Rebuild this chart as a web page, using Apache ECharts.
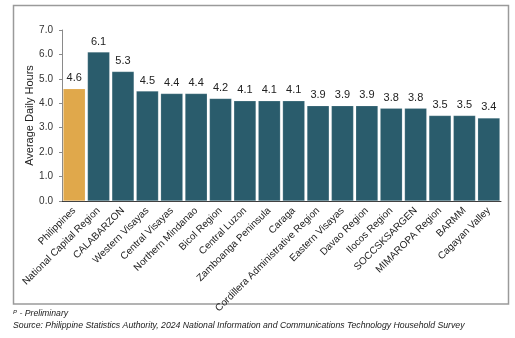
<!DOCTYPE html>
<html>
<head>
<meta charset="utf-8">
<script src="https://cdn.jsdelivr.net/npm/echarts@6/dist/echarts.min.js"></script>
<style>
  html, body { margin: 0; padding: 0; background: #ffffff; }
  #chart { width: 515px; height: 338px; }
</style>
</head>
<body>
<div id="chart"></div>
<script>
// Regions, in the order shown (national average first)
const regions = [
  'Philippines', 'National Capital Region', 'CALABARZON', 'Western Visayas',
  'Central Visayas', 'Northern Mindanao', 'Bicol Region', 'Central Luzon',
  'Zamboanga Peninsula', 'Caraga', 'Cordillera Administrative Region',
  'Eastern Visayas', 'Davao Region', 'Ilocos Region', 'SOCCSKSARGEN',
  'MIMAROPA Region', 'BARMM', 'Cagayan Valley'
];
// Average daily hours of internet use
const dailyHours = [4.6, 6.1, 5.3, 4.5, 4.4, 4.4, 4.2, 4.1, 4.1, 4.1, 3.9, 3.9, 3.9, 3.8, 3.8, 3.5, 3.5, 3.4];
const yTicks = [0, 1, 2, 3, 4, 5, 6, 7];

const GOLD = '#E0A84B';
const TEAL = '#2A5C6C';
const FONT = '"Liberation Sans", Arial, sans-serif';

const chart = echarts.init(document.getElementById('chart'), null, { renderer: 'canvas' });

chart.setOption({
  animation: false,
  backgroundColor: '#ffffff',
  grid: { left: 62, right: 14, top: 30, bottom: 137 },
  xAxis: {
    type: 'category',
    data: regions,
    axisLine: { show: true, lineStyle: { color: '#3a3a3a', width: 1 } },
    axisTick: { show: false },
    axisLabel: {
      interval: 0,
      rotate: 45,
      margin: 8,
      fontFamily: FONT,
      fontSize: 10,
      color: '#222'
    }
  },
  yAxis: {
    type: 'value',
    min: yTicks[0],
    max: yTicks[yTicks.length - 1],
    interval: 1,
    name: 'Average Daily Hours',
    nameLocation: 'middle',
    nameGap: 27,
    nameMoveOverlap: false,
    nameTextStyle: { fontFamily: FONT, fontSize: 11, color: '#222' },
    axisLine: { show: true, lineStyle: { color: '#8a8a8a', width: 1 } },
    axisTick: { show: true, length: 3, lineStyle: { color: '#8a8a8a' } },
    splitLine: { show: false },
    axisLabel: {
      fontFamily: FONT,
      fontSize: 10,
      color: '#333',
      margin: 9,
      formatter: v => v.toFixed(1)
    }
  },
  series: [{
    type: 'bar',
    data: dailyHours.map((v, i) => ({
      value: v,
      itemStyle: { color: i === 0 ? GOLD : TEAL }
    })),
    barCategoryGap: '9%',
    itemStyle: { borderColor: 'rgba(255,255,255,0.35)', borderWidth: 0.5 },
    label: {
      show: true,
      position: 'top',
      distance: 5,
      fontFamily: FONT,
      fontSize: 11,
      color: '#222',
      formatter: p => p.value.toFixed(1)
    }
  }],
  graphic: [
    {
      type: 'rect',
      shape: { x: 13.5, y: 5.5, width: 495, height: 298.5 },
      style: { fill: 'none', stroke: '#9a9a9a', lineWidth: 1.5 },
      silent: true
    },
    {
      type: 'text',
      left: 13,
      top: 309,
      style: {
        text: '{sup|P} - Preliminary',
        font: 'italic 8.7px ' + FONT,
        fill: '#222',
        rich: { sup: { fontSize: 6, fontStyle: 'italic', verticalAlign: 'top', fill: '#222' } }
      }
    },
    {
      type: 'text',
      left: 13,
      top: 321,
      style: {
        text: 'Source: Philippine Statistics Authority, 2024 National Information and Communications Technology Household Survey',
        font: 'italic 8.7px ' + FONT,
        fill: '#222'
      }
    }
  ]
});
</script>
</body>
</html>
